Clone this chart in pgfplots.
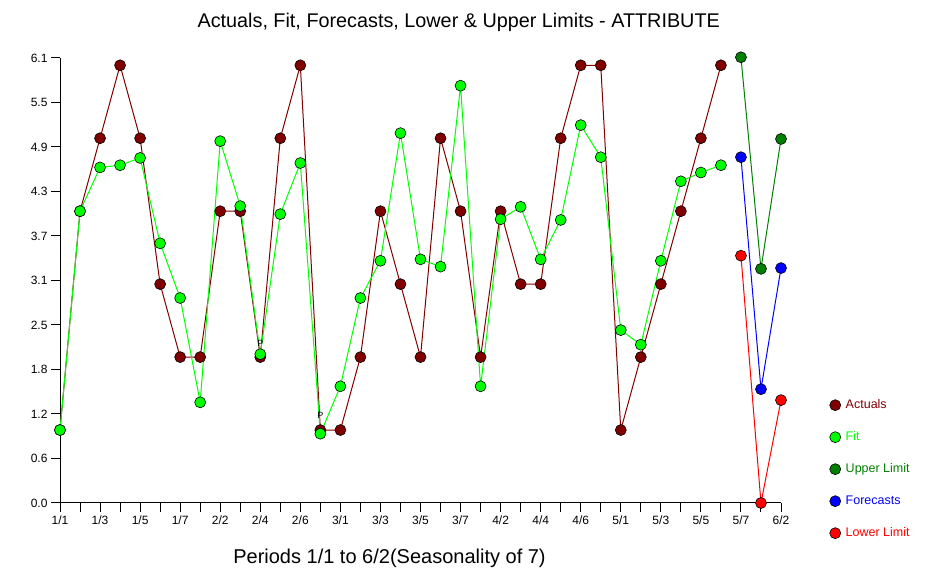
\documentclass[border=0pt]{standalone}
\usepackage{pgfplots}
\pgfplotsset{compat=1.18}
\usepackage{fontspec}
\setmainfont{Liberation Sans}
\definecolor{actc}{RGB}{128,0,0}
\definecolor{fitc}{RGB}{0,255,0}
\definecolor{upc}{RGB}{0,128,0}
\definecolor{fcc}{RGB}{0,0,255}
\definecolor{loc}{RGB}{255,0,0}
\begin{document}
\begin{tikzpicture}
\useasboundingbox (-60pt,-66pt) rectangle (869pt,503pt);
\begin{axis}[
  at={(0pt,0pt)}, anchor=south west,
  scale only axis, width=721pt, height=445pt,
  xmin=0, xmax=36, ymin=0, ymax=6.1,
  clip=false,
  axis x line*=bottom, axis y line*=left,
  axis line style={black, line width=1pt},
  tick align=outside, major tick length=9pt,
  tick style={black, line width=1pt},
  xtick={0,...,36},
  xticklabels={1/1,,1/3,,1/5,,1/7,,2/2,,2/4,,2/6,,3/1,,3/3,,3/5,,3/7,,4/2,,4/4,,4/6,,5/1,,5/3,,5/5,,5/7,,6/2},
  ytick={0,0.61,1.22,1.83,2.44,3.05,3.66,4.27,4.88,5.49,6.1},
  yticklabels={0.0,0.6,1.2,1.8,2.5,3.1,3.7,4.3,4.9,5.5,6.1},
  ticklabel style={font=\fontsize{12}{14}\selectfont},
  title={Actuals, Fit, Forecasts, Lower \& Upper Limits - ATTRIBUTE},
  title style={at={(axis description cs:0.553,1)}, anchor=base, yshift=24pt, font=\fontsize{19.8}{22}\selectfont},
  xlabel={Periods 1/1 to 6/2(Seasonality of 7)},
  xlabel style={at={(axis description cs:0.457,0)}, anchor=base, yshift=-61pt, font=\fontsize{20}{23}\selectfont},
  every axis plot/.append style={line width=1pt, mark=*, mark size=5.5pt},
  legend image code/.code={\draw[#1] plot coordinates {(0pt,0pt)};},
  legend style={at={(axis description cs:1.0673,0.236)}, anchor=north west, draw=none, fill=none,
    inner sep=0pt, row sep=18pt, column sep=4pt,
    font=\fontsize{12.5}{14}\selectfont,
    nodes={inner sep=1pt, text height=9pt, text depth=3pt}},
  legend cell align=left,
]
\addplot[actc, mark options={fill=actc, draw=black, line width=0.6pt}] coordinates {
(0,1)(1,4)(2,5)(3,6)(4,5)(5,3)(6,2)(7,2)(8,4)(9,4)(10,2)(11,5)(12,6)(13,1)(14,1)(15,2)(16,4)
(17,3)(18,2)(19,5)(20,4)(21,2)(22,4)(23,3)(24,3)(25,5)(26,6)(27,6)(28,1)(29,2)(30,3)(31,4)(32,5)(33,6)};
\addlegendentry{\textcolor{actc}{Actuals}}
\addplot[fitc, mark options={fill=fitc, draw=black, line width=0.6pt}] coordinates {
(0,1.0)(1,4.0)(2,4.6)(3,4.63)(4,4.73)(5,3.56)(6,2.81)(7,1.38)(8,4.96)(9,4.07)(10,2.04)(11,3.96)
(12,4.66)(13,0.95)(14,1.6)(15,2.81)(16,3.32)(17,5.07)(18,3.34)(19,3.24)(20,5.72)(21,1.6)(22,3.89)
(23,4.06)(24,3.34)(25,3.88)(26,5.18)(27,4.74)(28,2.37)(29,2.17)(30,3.32)(31,4.41)(32,4.53)(33,4.63)};
\addlegendentry{\textcolor{fitc}{Fit}}
\addplot[upc, mark options={fill=upc, draw=black, line width=0.6pt}] coordinates {(34,6.11)(35,3.21)(36,4.99)};
\addlegendentry{\textcolor{upc}{Upper Limit}}
\addplot[fcc, mark options={fill=fcc, draw=black, line width=0.6pt}] coordinates {(34,4.74)(35,1.56)(36,3.22)};
\addlegendentry{\textcolor{fcc}{Forecasts}}
\addplot[loc, mark options={fill=loc, draw=black, line width=0.6pt}] coordinates {(34,3.39)(35,0)(36,1.41)};
\addlegendentry{\textcolor{loc}{Lower Limit}}
\node[font=\fontsize{9}{10}\selectfont, inner sep=0pt] at (axis cs:10,2.19) {P};
\node[font=\fontsize{9}{10}\selectfont, inner sep=0pt] at (axis cs:13,1.2) {P};
\end{axis}
\end{tikzpicture}
\end{document}
